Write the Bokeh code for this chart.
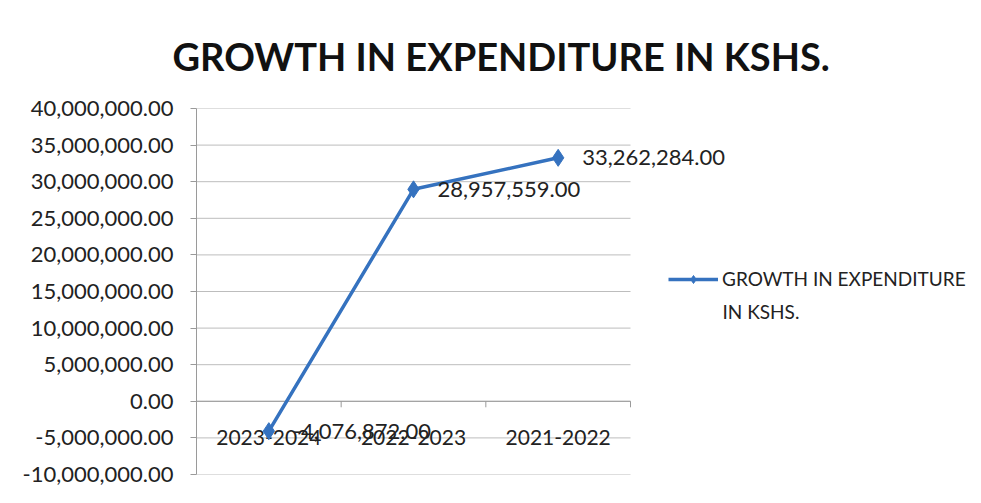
from bokeh.plotting import figure
from bokeh.models import (ColumnDataSource, FixedTicker, NumeralTickFormatter, Range1d,
                          Legend, LegendItem, Label)
from bokeh.core.properties import value
from bokeh.embed import file_html
from bokeh.resources import INLINE

categories = ["2023-2024", "2022-2023", "2021-2022"]
growth = [-4076872.00, 28957559.00, 33262284.00]
value_labels = ["-4,076,872.00", "28,957,559.00", "33,262,284.00"]
y_ticks = [-10000000, -5000000, 0, 5000000, 10000000, 15000000, 20000000,
           25000000, 30000000, 35000000, 40000000]
title_text = "GROWTH IN EXPENDITURE IN KSHS."
legend_line1 = "GROWTH IN EXPENDITURE"
legend_line2 = "IN KSHS."

FONT = "Lato"
TXT = "#222222"
BLUE = "#3572BF"
GRAY = "#9a9a9a"

W, H = 975, 495
LEFT, TOP, RIGHT_PLOT, BOTTOM = 196, 107, 630, 474
frame_w = W - LEFT
plot_w = RIGHT_PLOT - LEFT
n = len(categories)
x_end = n * frame_w / plot_w
frame_h = BOTTOM - TOP
ppu = frame_h / (y_ticks[-1] - y_ticks[0])

xs = [i + 0.5 for i in range(n)]
src = ColumnDataSource(dict(x=xs, y=growth, lab=value_labels, cat=categories,
                            zero=[0] * n))

p = figure(width=W, height=H, output_backend="svg", toolbar_location=None,
           x_range=Range1d(0, x_end), y_range=Range1d(y_ticks[0], y_ticks[-1]),
           min_border_left=LEFT, min_border_right=0, min_border_top=TOP,
           min_border_bottom=H - BOTTOM)
p.outline_line_color = None
p.background_fill_color = "white"
p.border_fill_color = "white"

# title
p.title.text = title_text
p.title.text_font = FONT
p.title.text_font_size = "38px"
p.title.text_font_style = "bold"
p.title.text_color = "#111111"
p.title.align = "left"
p.title.offset = -24
p.title.standoff = 60

# y axis
p.yaxis.ticker = FixedTicker(ticks=y_ticks, minor_ticks=[])
p.yaxis.formatter = NumeralTickFormatter(format="0,0.00")
p.yaxis.major_label_text_font = FONT
p.yaxis.major_label_text_font_size = "22px"
p.yaxis.major_label_text_color = TXT
p.yaxis.axis_line_color = GRAY
p.yaxis.major_tick_line_color = GRAY
p.yaxis.major_tick_out = 6
p.yaxis.major_tick_in = 0
p.yaxis.major_label_standoff = 17

p.xaxis.visible = False
p.xgrid.grid_line_color = None
p.ygrid.grid_line_color = None

# horizontal gridlines only across the category area
p.segment(x0=[0] * len(y_ticks), x1=[n] * len(y_ticks), y0=y_ticks, y1=y_ticks,
          line_color="#bdbdbd", line_width=1)
# horizontal axis at zero with tick marks at category boundaries
p.segment(x0=[0], x1=[n], y0=[0], y1=[0], line_color=GRAY, line_width=1)
bounds = list(range(n + 1))
p.segment(x0=bounds, x1=bounds, y0=[0] * (n + 1), y1=[-6 / ppu] * (n + 1),
          line_color=GRAY, line_width=1)

# category labels
p.text(x="x", y="zero", text="cat", source=src, text_font=value(FONT),
       text_font_size="21px", text_color=TXT, text_align="center",
       text_baseline="middle", y_offset=36)

line = p.line("x", "y", source=src, line_color=BLUE, line_width=3.5)
pts = p.scatter("x", "y", source=src, marker="diamond", size=17, fill_color=BLUE,
                line_color=BLUE)

p.text(x="x", y="y", text="lab", source=src, text_font=value(FONT),
       text_font_size="22px", text_color=TXT, text_align="left",
       text_baseline="middle", x_offset=24)

legend = Legend(items=[LegendItem(label=legend_line1, renderers=[line, pts])],
                location=(668 - LEFT, BOTTOM - 280 - 10), padding=0, margin=0,
                border_line_color=None, background_fill_alpha=0, glyph_width=50,
                glyph_height=20, label_standoff=4, label_text_font=FONT,
                label_text_font_size="19px", label_text_color=TXT,
                label_text_baseline="middle")
p.add_layout(legend, "center")
p.add_layout(Label(x=722 - LEFT, y=BOTTOM - 311, x_units="screen", y_units="screen",
                   text=legend_line2, text_font=FONT, text_font_size="19px",
                   text_color=TXT, text_baseline="middle"))

open("out.html", "w").write(file_html(p, INLINE))
